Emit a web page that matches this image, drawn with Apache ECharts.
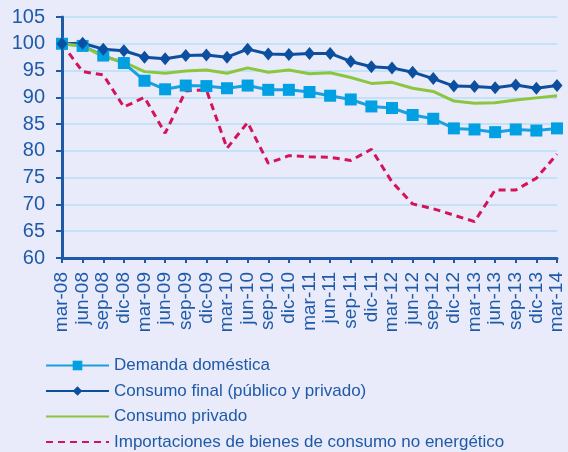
<!DOCTYPE html>
<html>
<head>
<meta charset="utf-8">
<script src="https://cdn.jsdelivr.net/npm/echarts@6/dist/echarts.min.js"></script>
<style>
  html, body { margin: 0; padding: 0; background: #e9ebfa; }
  #chart { width: 568px; height: 452px; }
</style>
</head>
<body>
<div id="chart"></div>
<script>
const quarters = ["mar-08", "jun-08", "sep-08", "dic-08", "mar-09", "jun-09", "sep-09", "dic-09",
  "mar-10", "jun-10", "sep-10", "dic-10", "mar-11", "jun-11", "sep-11", "dic-11",
  "mar-12", "jun-12", "sep-12", "dic-12", "mar-13", "jun-13", "sep-13", "dic-13", "mar-14"];

const demandaDomestica = [100, 99.6, 97.8, 96.4, 93.1, 91.5, 92.2, 92.1, 91.7, 92.2, 91.4, 91.4,
  91.0, 90.3, 89.6, 88.3, 88.0, 86.7, 86.0, 84.2, 84.0, 83.5, 84.0, 83.8, 84.2];
const consumoFinal = [100, 100.1, 99.0, 98.7, 97.5, 97.2, 97.8, 97.9, 97.5, 99.0, 98.1, 98.0,
  98.2, 98.2, 96.7, 95.7, 95.5, 94.7, 93.5, 92.1, 92.0, 91.8, 92.3, 91.7, 92.2];
const consumoPrivado = [100, 99.6, 97.6, 96.6, 94.8, 94.5, 94.9, 95.1, 94.5, 95.5, 94.7, 95.1,
  94.4, 94.6, 93.7, 92.6, 92.8, 91.7, 91.1, 89.3, 88.9, 89.0, 89.5, 89.9, 90.3];
const importaciones = [100, 94.8, 94.2, 88.2, 90.0, 83.3, 91.2, 91.4, 80.5, 85.3, 77.7, 79.1,
  78.9, 78.8, 78.2, 80.3, 74.2, 70.1, 69.2, 68.0, 66.8, 72.7, 72.7, 74.9, 79.4];

const axisBlue = "#1f5aa8";
const font = "'Liberation Sans', Arial, sans-serif";

const chart = echarts.init(document.getElementById("chart"), null, { renderer: "canvas" });
chart.setOption({
  animation: false,
  backgroundColor: "#e9ebfa",
  textStyle: { fontFamily: font },
  grid: { left: 62, right: 11, top: 17, bottom: 194 },
  legend: {
    orient: "vertical",
    left: 40,
    top: 352,
    height: 100,
    itemWidth: 63,
    itemHeight: 12,
    itemGap: 8.5,
    textStyle: { color: axisBlue, fontSize: 17, fontFamily: font },
    data: [
      { name: "Demanda doméstica" },
      { name: "Consumo final (público y privado)" },
      { name: "Consumo privado", itemStyle: { opacity: 0 } },
      { name: "Importaciones de bienes de consumo no energético", itemStyle: { opacity: 0 } }
    ]
  },
  xAxis: {
    type: "category",
    data: quarters,
    boundaryGap: false,
    axisLine: { lineStyle: { color: axisBlue, width: 3 } },
    axisTick: { alignWithLabel: true, length: 5, lineStyle: { color: axisBlue, width: 2 } },
    axisLabel: { rotate: 90, interval: 0, margin: 14, color: axisBlue, fontSize: 19, fontFamily: font },
    splitLine: { show: false }
  },
  yAxis: {
    type: "value",
    min: 60,
    max: 105,
    interval: 5,
    axisLine: { show: true, lineStyle: { color: axisBlue, width: 3 } },
    axisTick: { show: true, length: 6, lineStyle: { color: axisBlue, width: 2 } },
    axisLabel: { margin: 17, color: axisBlue, fontSize: 20, fontFamily: font },
    splitLine: { lineStyle: { color: "#c4e2f5", width: 2 } }
  },
  series: [
    {
      name: "Demanda doméstica", type: "line", data: demandaDomestica,
      symbol: "rect", symbolSize: 12, showSymbol: true,
      lineStyle: { color: "#1aa0e0", width: 3 },
      itemStyle: { color: "#00a0e3" }
    },
    {
      name: "Consumo final (público y privado)", type: "line", data: consumoFinal,
      symbol: "diamond", symbolSize: [11, 13],
      lineStyle: { color: "#0d4f9f", width: 3 },
      itemStyle: { color: "#0d4f9f" }
    },
    {
      name: "Consumo privado", type: "line", data: consumoPrivado,
      symbol: "none",
      lineStyle: { color: "#8cc63f", width: 3 },
      itemStyle: { color: "#8cc63f" }
    },
    {
      name: "Importaciones de bienes de consumo no energético", type: "line", data: importaciones,
      symbol: "none",
      lineStyle: { color: "#d4145a", width: 3, type: [7, 5] },
      itemStyle: { color: "#d4145a" }
    }
  ]
});
</script>
</body>
</html>
